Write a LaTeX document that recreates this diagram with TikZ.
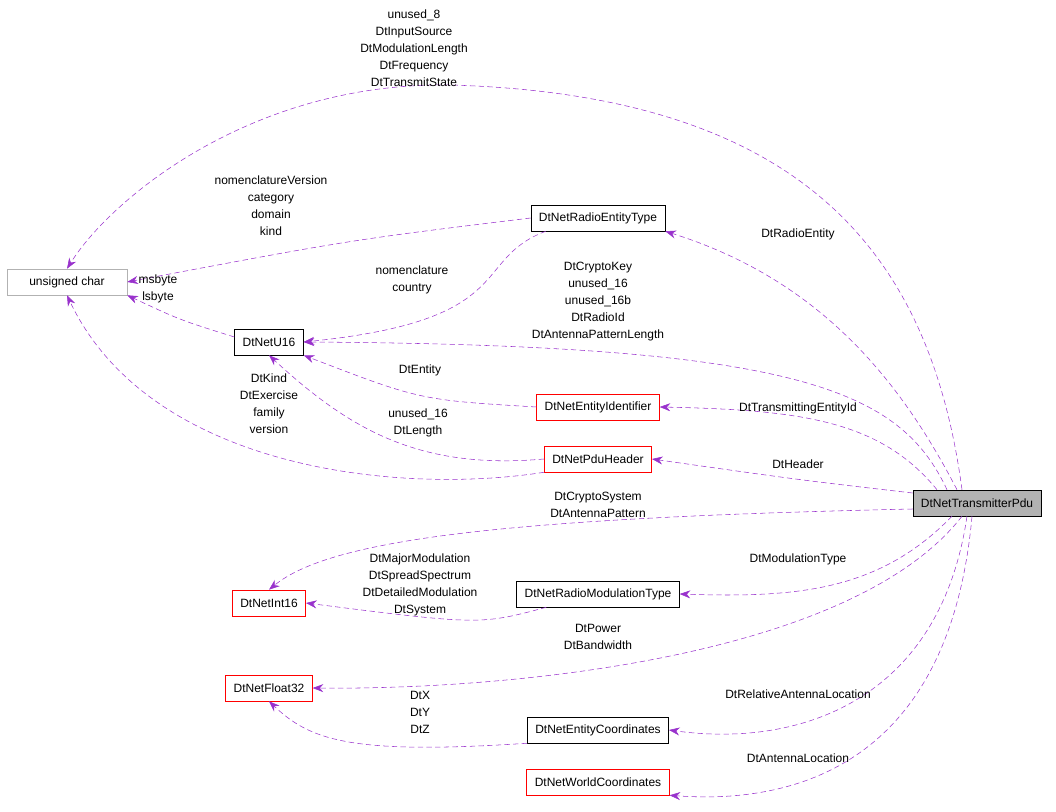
\documentclass[tikz,border=0pt]{standalone}
\usepackage{fontspec}
\setmainfont{Liberation Sans}
\usetikzlibrary{arrows.meta}
\definecolor{edgepurple}{RGB}{153,50,204}
\begin{document}
\begin{tikzpicture}[x=0.75pt,y=-0.75pt]
\tikzset{ >={Stealth[length=8pt,width=6pt]},
  cls/.style={draw=black, fill=white, font=\fontsize{9}{11}\selectfont, minimum height=19.5pt, inner xsep=6pt},
  redcls/.style={cls, draw=red},
  lbl/.style={font=\fontsize{9}{12.75}\selectfont, align=center},
  coll/.style={->, draw=edgepurple, dashed, dash pattern=on 4pt off 2.5pt, thin},
}
\useasboundingbox (0,0) rectangle (1056,812);

%\draw [lightgray, dashed](0,0) grid (1056,812);

\node [cls, draw=gray!60, minimum width=90pt] (UC) at (67,282) {unsigned char};
\node [cls] (RET) at (598,218) {DtNetRadioEntityType};
\node [cls] (U16) at (269,342) {DtNetU16};
\node [redcls] (EID) at (598,407) {DtNetEntityIdentifier};
\node [redcls] (PDU) at (598,459) {DtNetPduHeader};
\node [cls, fill=gray!60] (TP) at (977,503) {DtNetTransmitterPdu};
\node [redcls] (I16) at (269,603) {DtNetInt16};
\node [cls] (RMT) at (598,594) {DtNetRadioModulationType};
\node [redcls] (F32) at (269,688) {DtNetFloat32};
\node [cls] (ECO) at (598,730) {DtNetEntityCoordinates};
\node [redcls] (WCO) at (598,782) {DtNetWorldCoordinates};

\draw [coll] (TP.north) ++(-15,0) .. controls (930,250) and (800,95) .. (450,85)
  .. controls (250,82) and (110,200) .. (UC.north);
\draw [coll] (TP.north) ++(-20,0) .. controls (900,380) and (820,280) .. (RET.south east);
\draw [coll] (RET.west) .. controls (350,240) .. (UC.east);
\draw [coll] (RET.south west) ++(15,0) .. controls (470,260) and (520,320) .. (U16.east);
\draw [coll] (U16.west) ++(0,-5) .. controls (180,320) .. (UC.south east);
\draw [coll] (TP.north) ++(-30,0) .. controls (900,390) and (800,345) .. (U16.east);
\draw [coll] (EID.west) .. controls (420,400) .. (U16.south east);
\draw [coll] (TP.north) ++(-40,0) .. controls (880,420) and (800,410) .. (EID.east);
\draw [coll] (PDU.west) .. controls (420,470) and (350,430) .. (U16.south);
\draw [coll] (PDU.south west) .. controls (400,495) and (150,470) .. (UC.south);
\draw [coll] (TP.west) ++(0,-10) .. controls (800,480) .. (PDU.east);
\draw [coll] (TP.west) ++(0,6) .. controls (500,518) and (330,540) .. (I16.north);
\draw [coll] (RMT.south west) ++(30,0) .. controls (480,625) .. (I16.east);
\draw [coll] (TP.south) ++(-25,0) .. controls (880,590) and (800,598) .. (RMT.east);
\draw [coll] (TP.south) ++(-15,0) .. controls (850,660) and (500,690) .. (F32.east);
\draw [coll] (ECO.south west) .. controls (350,755) and (310,740) .. (F32.south);
\draw [coll] (TP.south) ++(-10,0) .. controls (940,700) and (800,748) .. (ECO.east);
\draw [coll] (TP.south) ++(-5,0) .. controls (950,760) and (800,805) .. (WCO.south east);

\node [lbl] (l1) at (414,48) {unused\_8\\DtInputSource\\DtModulationLength\\DtFrequency\\DtTransmitState};
\node [lbl] (l2) at (798,234) {DtRadioEntity};
\node [lbl] (l3) at (271,206) {nomenclatureVersion\\category\\domain\\kind};
\node [lbl] (l4) at (412,280) {nomenclature\\country};
\node [lbl] (l5) at (158,289) {msbyte\\lsbyte};
\node [lbl] (l6) at (598,302) {DtCryptoKey\\unused\_16\\unused\_16b\\DtRadioId\\DtAntennaPatternLength};
\node [lbl] (l7) at (420,370) {DtEntity};
\node [lbl] (l8) at (798,408) {DtTransmittingEntityId};
\node [lbl] (l9) at (418,423) {unused\_16\\DtLength};
\node [lbl] (l10) at (269,404) {DtKind\\DtExercise\\family\\version};
\node [lbl] (l11) at (798,464) {DtHeader};
\node [lbl] (l12) at (598,505) {DtCryptoSystem\\DtAntennaPattern};
\node [lbl] (l13) at (420,585) {DtMajorModulation\\DtSpreadSpectrum\\DtDetailedModulation\\DtSystem};
\node [lbl] (l14) at (798,559) {DtModulationType};
\node [lbl] (l15) at (598,637) {DtPower\\DtBandwidth};
\node [lbl] (l16) at (420,712) {DtX\\DtY\\DtZ};
\node [lbl] (l17) at (798,694) {DtRelativeAntennaLocation};
\node [lbl] (l18) at (798,758) {DtAntennaLocation};

\end{tikzpicture}
\end{document}
